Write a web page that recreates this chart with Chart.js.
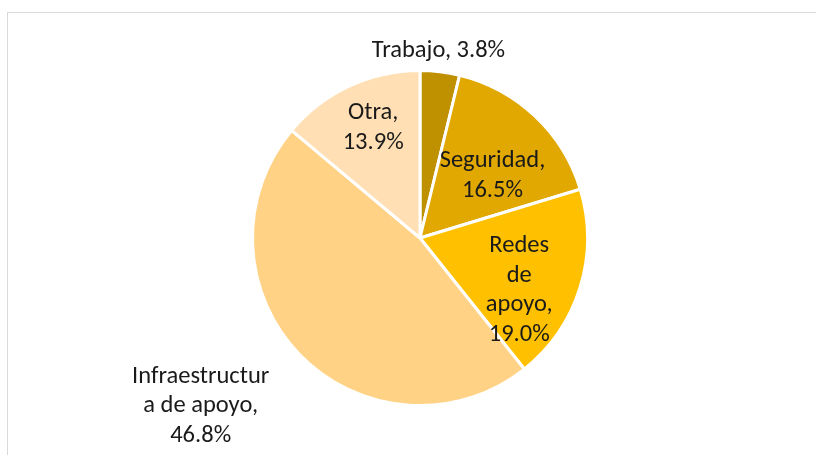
<!DOCTYPE html>
<html>
<head>
<meta charset="utf-8">
<script src="https://cdn.jsdelivr.net/npm/chart.js@4"></script>
<style>
    html, body { margin: 0; padding: 0; background: #ffffff; }
    #wrap { position: relative; width: 816px; height: 455px; overflow: hidden; }
    #frame { position: absolute; left: 7px; top: 12px; width: 830px; height: 460px; border: 1px solid #d9d9d9; box-sizing: border-box; }
    canvas { position: absolute; left: 0; top: 0; }
</style>
</head>
<body>
<div id="wrap">
    <div id="frame"></div>
    <canvas id="pie-chart" width="816" height="455"></canvas>
</div>
<script>
const categories = ['Trabajo', 'Seguridad', 'Redes de apoyo', 'Infraestructura de apoyo', 'Otra'];
const shares = [3.8, 16.5, 19.0, 46.8, 13.9];
const sliceColors = ['#bf9000', '#e0a800', '#ffc000', '#ffd285', '#ffdfb3'];

// how Excel wrapped each label
const labelLines = [
    ['Trabajo, 3.8%'],
    ['Seguridad,', '16.5%'],
    ['Redes', 'de', 'apoyo,', '19.0%'],
    ['Infraestructur', 'a de apoyo,', '46.8%'],
    ['Otra,', '13.9%']
];
// radius factor and angle shift (deg) for each label
const labelPlace = [
    { r: 1.12, a: -1.2 },
    { r: 0.57, a: 6.0 },
    { r: 0.67, a: 10.6 },
    { r: 1.65, a: 6.8 },
    { r: 0.715, a: 2.0 }
];

const pieLabels = {
    id: 'pieLabels',
    afterDatasetsDraw(chart) {
        const ctx = chart.ctx;
        const meta = chart.getDatasetMeta(0);
        ctx.save();
        ctx.font = '24.5px Carlito, "Open Sans", sans-serif';
        ctx.fillStyle = '#1a1a1a';
        ctx.textAlign = 'center';
        ctx.textBaseline = 'middle';
        const lineH = 29.5;
        meta.data.forEach((arc, i) => {
            const p = arc.getProps(['x', 'y', 'startAngle', 'endAngle', 'outerRadius']);
            const mid = (p.startAngle + p.endAngle) / 2 + labelPlace[i].a * Math.PI / 180;
            const rr = p.outerRadius * labelPlace[i].r;
            const cx = p.x + Math.cos(mid) * rr;
            const cy = p.y + Math.sin(mid) * rr;
            const lines = labelLines[i];
            const top = cy - (lines.length - 1) * lineH / 2;
            lines.forEach((t, k) => ctx.fillText(t, cx, top + k * lineH));
        });
        ctx.restore();
    }
};

new Chart(document.getElementById('pie-chart'), {
    type: 'pie',
    data: {
        labels: categories,
        datasets: [{
            data: shares,
            backgroundColor: sliceColors,
            borderColor: '#ffffff',
            borderWidth: 3
        }]
    },
    options: {
        responsive: false,
        animation: false,
        layout: {
            padding: { left: 251, right: 227, top: 68, bottom: 47 }
        },
        plugins: {
            legend: { display: false },
            tooltip: { enabled: false }
        }
    },
    plugins: [pieLabels]
});
</script>
</body>
</html>
